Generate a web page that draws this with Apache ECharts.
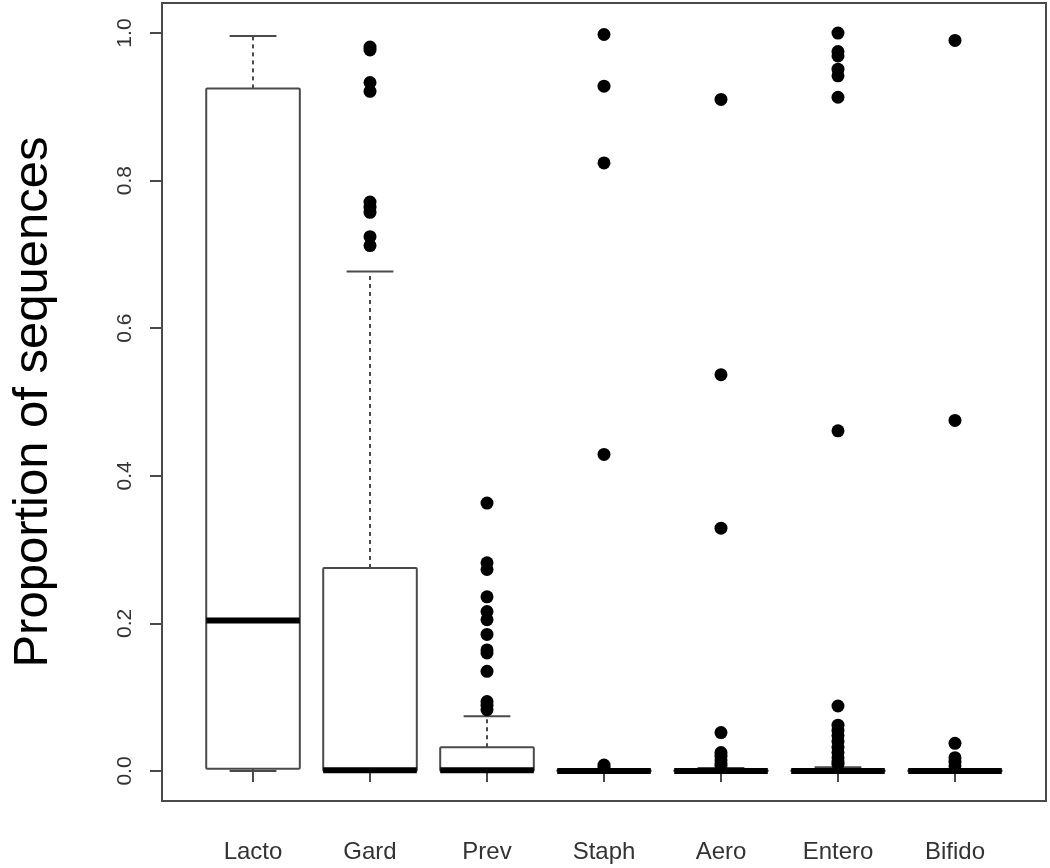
<!DOCTYPE html>
<html><head><meta charset="utf-8">
<script src="https://cdn.jsdelivr.net/npm/echarts@6/dist/echarts.min.js"></script>
<style>html,body{margin:0;padding:0;background:#fff}#c{width:1050px;height:868px}</style>
</head><body><div id="c"></div>
<script>
const categories = ['Lacto', 'Gard', 'Prev', 'Staph', 'Aero', 'Entero', 'Bifido'];
const whiskerLow = [0, 0, 0, 0, 0, 0, 0];
const q1 = [0.003, 0, 0, 0, 0, 0, 0];
const median = [0.204, 0.001, 0.001, 0, 0, 0, 0];
const q3 = [0.925, 0.275, 0.032, 0.0005, 0.0005, 0.0005, 0.0005];
const whiskerHigh = [0.996, 0.677, 0.074, 0.0005, 0.004, 0.005, 0.0005];
const outLacto = [];
const outGard = [0.981, 0.977, 0.933, 0.921, 0.771, 0.764, 0.757, 0.724, 0.712];
const outPrev = [0.363, 0.282, 0.273, 0.236, 0.216, 0.205, 0.185, 0.164, 0.160, 0.135, 0.094, 0.089, 0.083];
const outStaph = [0.998, 0.928, 0.824, 0.429, 0.008, 0.005];
const outAero = [0.910, 0.537, 0.329, 0.052, 0.025, 0.020, 0.015, 0.010, 0.007];
const outEntero = [1.0, 0.975, 0.969, 0.951, 0.942, 0.913, 0.461, 0.088, 0.062, 0.055, 0.048, 0.040, 0.032, 0.025, 0.018, 0.012, 0.009];
const outBifido = [0.990, 0.475, 0.0375, 0.018, 0.012, 0.007];
const yTicks = [0, 0.2, 0.4, 0.6, 0.8, 1.0];
const yTitle = 'Proportion of sequences';

const outliers = [outLacto, outGard, outPrev, outStaph, outAero, outEntero, outBifido];
const boxData = categories.map((c, i) => [i + 1, whiskerLow[i], q1[i], median[i], q3[i], whiskerHigh[i]]);
const outData = [];
outliers.forEach((arr, i) => arr.forEach(v => outData.push([i + 1, v])));
const xPositions = categories.map((c, i) => i + 1);

const LINE = '#4a4a4a';
const BOX_W = 0.8;

function renderBox(params, api) {
  const x = api.value(0);
  const lo = api.value(1), a = api.value(2), m = api.value(3), b = api.value(4), hi = api.value(5);
  const half = api.size([BOX_W, 0])[0] / 2;
  const capHalf = half / 2;
  const pLo = api.coord([x, lo]), pA = api.coord([x, a]), pM = api.coord([x, m]), pB = api.coord([x, b]), pHi = api.coord([x, hi]);
  const cx = pA[0];
  const dashStyle = { stroke: LINE, lineWidth: 2, lineDash: [4, 4] };
  const solid = { stroke: LINE, lineWidth: 2 };
  return {
    type: 'group',
    children: [
      { type: 'line', shape: { x1: cx, y1: pB[1], x2: cx, y2: pHi[1] }, style: dashStyle },
      { type: 'line', shape: { x1: cx, y1: pA[1], x2: cx, y2: pLo[1] }, style: dashStyle },
      { type: 'line', shape: { x1: cx - capHalf, y1: pHi[1], x2: cx + capHalf, y2: pHi[1] }, style: solid },
      { type: 'line', shape: { x1: cx - capHalf, y1: pLo[1], x2: cx + capHalf, y2: pLo[1] }, style: solid },
      { type: 'rect', shape: { x: cx - half, y: pB[1], width: 2 * half, height: pA[1] - pB[1], r: 1 }, style: { fill: '#fff', stroke: LINE, lineWidth: 2 } },
      { type: 'line', shape: { x1: cx - half, y1: pM[1], x2: cx + half, y2: pM[1] }, style: { stroke: '#000', lineWidth: 6 } }
    ]
  };
}

const chart = echarts.init(document.getElementById('c'), null, { renderer: 'canvas' });
chart.setOption({
  backgroundColor: '#fff',
  animation: false,
  textStyle: { fontFamily: 'Liberation Sans, Arial, sans-serif' },
  grid: { left: 162, right: 4, top: 3, bottom: 67, containLabel: false, outerBoundsMode: 'none', show: true, borderColor: LINE, borderWidth: 2, backgroundColor: 'transparent' },
  xAxis: {
    type: 'value', min: 0.222, max: 7.778,
    splitLine: { show: false },
    axisLine: { show: false },
    axisTick: { show: true, customValues: xPositions, length: 11, inside: false, lineStyle: { color: LINE, width: 2 } },
    axisLabel: { customValues: xPositions, formatter: v => categories[Math.round(v) - 1], margin: 39, fontSize: 24, color: '#333' }
  },
  yAxis: {
    type: 'value', min: -0.0407, max: 1.0407,
    splitLine: { show: false },
    axisLine: { show: false },
    axisTick: { show: true, customValues: yTicks, length: 12, lineStyle: { color: LINE, width: 2 } },
    axisLabel: { customValues: yTicks, formatter: v => v.toFixed(1), rotate: 90, margin: 26, fontSize: 21, color: '#333' },
    name: yTitle, nameLocation: 'middle', nameGap: 104, nameRotate: 90,
    nameTextStyle: { fontSize: 49, color: '#000' }
  },
  series: [
    { type: 'custom', renderItem: renderBox, data: boxData, encode: { x: 0, y: [1, 2, 3, 4, 5] }, z: 2, silent: true },
    { type: 'scatter', data: outData, symbol: 'circle', symbolSize: 13, itemStyle: { color: '#000', opacity: 1 }, z: 3, silent: true }
  ]
});
</script></body></html>
